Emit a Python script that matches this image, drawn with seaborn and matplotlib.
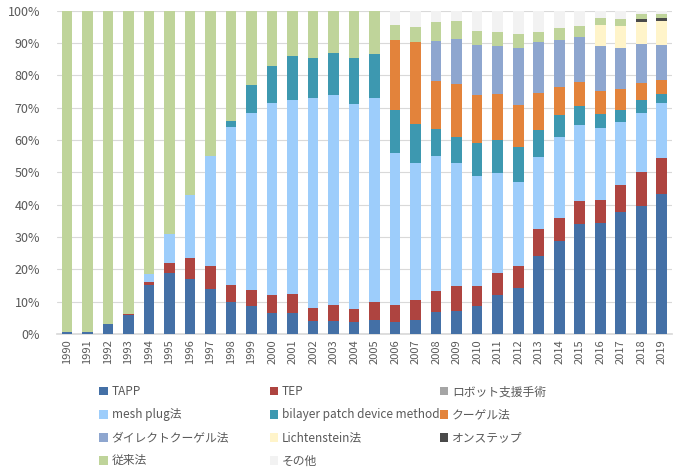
import numpy as np
import pandas as pd
import matplotlib
matplotlib.use("Agg")
import matplotlib.pyplot as plt
import seaborn as sns
from matplotlib.patches import Patch

years = [str(y) for y in range(1990, 2020)]

tapp = [0.7, 0.6, 3.0, 5.8, 15.0, 19.0, 17.0, 14.0, 10.0, 8.5,
        6.5, 6.5, 4.0, 4.0, 3.7, 4.4, 3.7, 4.4, 6.8, 7.2,
        8.7, 12.0, 14.3, 24.0, 28.7, 34.0, 34.2, 37.7, 39.7, 43.3]
tep = [0, 0, 0, 0.3, 1.0, 3.0, 6.5, 7.0, 5.0, 5.0,
       5.5, 5.9, 4.0, 5.0, 3.9, 5.6, 5.3, 6.1, 6.4, 7.5,
       6.0, 7.0, 6.7, 8.4, 7.1, 7.2, 7.4, 8.3, 10.3, 11.2]
robot = [0] * 30
mesh = [0, 0, 0, 0, 2.5, 9.0, 19.5, 34.0, 49.0, 55.0,
        59.5, 60.1, 65.0, 65.0, 63.7, 63.0, 47.0, 42.3, 41.8, 38.3,
        34.3, 30.7, 26.0, 22.4, 25.0, 23.4, 22.1, 19.5, 18.5, 16.9]
bilayer = [0, 0, 0, 0, 0, 0, 0, 0, 2.0, 8.5,
           11.5, 13.5, 12.4, 13.0, 14.1, 13.6, 13.4, 12.2, 8.6, 8.0,
           10.0, 10.3, 10.8, 8.2, 6.9, 5.9, 4.3, 3.9, 4.0, 3.0]
kugel = [0] * 16 + [21.6, 25.5, 14.9, 16.3,
                    15.0, 14.3, 13.2, 11.6, 8.8, 7.5, 7.2, 6.4, 5.2, 4.3]
direct = [0] * 18 + [12.2, 14.1,
                     15.4, 14.7, 17.5, 15.8, 14.5, 13.8, 13.8, 12.8, 11.9, 10.7]
lichten = [0] * 26 + [6.7, 6.7, 7.0, 7.6]
onstep = [0] * 28 + [0.8, 0.7]
conv = [99.3, 99.4, 97.0, 93.9, 81.5, 69.0, 57.0, 45.0, 34.0, 23.0,
        17.0, 14.0, 14.6, 13.0, 14.6, 13.4, 4.7, 4.5, 6.0, 5.3,
        4.4, 4.6, 4.2, 3.1, 3.8, 3.4, 2.0, 2.1, 1.6, 1.3]
other = [0] * 16 + [4.3, 5.0, 3.4, 3.3,
                    6.2, 6.4, 7.3, 6.5, 5.2, 4.8, 2.3, 2.6, 1.0, 1.0]

names = ["TAPP", "TEP", "ロボット支援手術", "mesh plug法", "bilayer patch device method",
         "クーゲル法", "ダイレクトクーゲル法", "Lichtenstein法", "オンステップ", "従来法", "その他"]
series = [tapp, tep, robot, mesh, bilayer, kugel, direct, lichten, onstep, conv, other]
colors = ["#4470A6", "#AE4440", "#A5A5A5", "#9DCDFB", "#3D98B0",
          "#E3833B", "#8EA6CF", "#FFF4CA", "#4A4A4A", "#BFD49A", "#F2F2F2"]

vals = np.array(series, dtype=float)
vals = vals / vals.sum(axis=0) * 100
cum = np.cumsum(vals, axis=0)

sns.set_theme(style="white")
plt.rcParams["font.family"] = ["Noto Sans CJK JP", "DejaVu Sans"]

fig = plt.figure(figsize=(7.0, 4.71), dpi=100)
ax = fig.add_axes([0.081, 0.291, 0.879, 0.686])

for i in range(len(names) - 1, -1, -1):
    df = pd.DataFrame({"year": years, "top": cum[i]})
    sns.barplot(data=df, x="year", y="top", order=years, color=colors[i],
                saturation=1, width=0.52, errorbar=None, ax=ax, zorder=3,
                linewidth=0)

ax.set_ylim(0, 100)
ax.set_xlim(-0.5, 29.5)
ax.set_yticks(np.arange(0, 101, 10))
ax.set_yticklabels([f"{v}%" for v in range(0, 101, 10)], fontsize=9, color="#595959")
ax.tick_params(axis="x", labelrotation=90, labelsize=8, colors="#595959", length=0, pad=4)
ax.tick_params(axis="y", length=0, pad=12)
ax.set_xlabel("")
ax.set_ylabel("")
ax.grid(axis="y", color="#D9D9D9", linewidth=0.8, zorder=0)
for s in ["top", "right", "left"]:
    ax.spines[s].set_visible(False)
ax.spines["bottom"].set_color("#D9D9D9")

handles = [Patch(facecolor=c, edgecolor="none") for c in colors]
cols = [[0, 3, 6, 9], [1, 4, 7, 10], [2, 5, 8]]
xs = [0.142, 0.385, 0.628]
for xpos, idx in zip(xs, cols):
    fig.legend([handles[j] for j in idx], [names[j] for j in idx],
               loc="upper left", bbox_to_anchor=(xpos, 0.182), frameon=False,
               fontsize=8.5, handlelength=0.75, handleheight=0.75, handletextpad=0.3,
               labelspacing=0.85, borderaxespad=0, borderpad=0,
               labelcolor="#595959")

fig.savefig("out.png", dpi=100)
